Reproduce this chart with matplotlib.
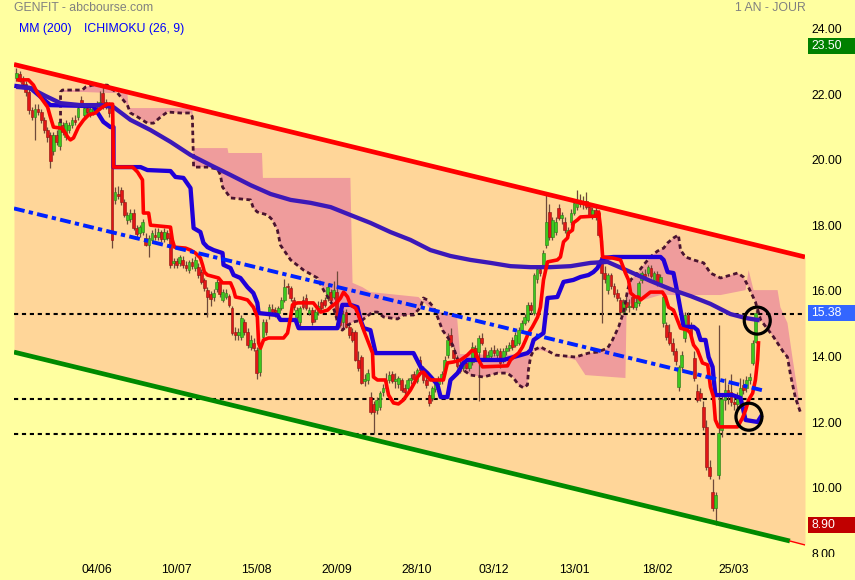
import numpy as np
import matplotlib
matplotlib.use("Agg")
import matplotlib.pyplot as plt
from matplotlib.patches import Ellipse, Rectangle

plt.rcParams['font.family'] = ['Liberation Sans', 'DejaVu Sans']

# daily candles, one entry per trading day (day 0 .. 240)
opens = [22.55, 22.65, 22.45, 22.35, 22.10, 21.56, 21.35, 21.60, 21.50, 21.26,
         20.95, 20.80, 20.30, 20.80, 20.45, 21.10, 20.75, 20.95, 21.10, 21.26,
         21.35, 21.87, 21.41, 21.62, 21.50, 21.47, 21.62, 21.62, 22.08, 21.80,
         21.71, 21.47, 18.82, 19.00, 19.12, 18.76, 18.21, 18.24, 18.42, 17.96,
         17.80, 17.84, 17.66, 17.45, 17.60, 17.75, 17.69, 17.84, 17.63, 17.80,
         17.66, 16.90, 16.96, 16.90, 17.00, 16.84, 16.68, 16.93, 16.74, 16.77,
         16.62, 16.38, 16.07, 15.95, 15.85, 16.10, 16.32, 15.77, 15.86, 15.90,
         15.52, 14.80, 14.70, 14.64, 15.10, 14.80, 14.33, 14.45, 14.24, 13.57,
         14.64, 15.10, 15.30, 15.50, 15.40, 15.37, 15.52, 15.77, 16.16, 16.13,
         15.77, 15.25, 15.10, 15.77, 15.83, 15.37, 15.46, 15.20, 15.40, 15.71,
         15.77, 15.83, 16.01, 15.86, 16.01, 15.52, 15.10, 15.40, 14.95, 14.79,
         14.79, 13.94, 14.03, 13.30, 13.33, 12.81, 12.60, 12.41, 12.50, 12.95,
         13.10, 13.33, 13.50, 13.30, 13.20, 13.33, 13.10, 13.10, 13.33, 13.50,
         13.30, 13.94, 13.63, 13.33, 12.87, 12.78, 13.05, 13.20, 13.35, 13.60,
         14.09, 14.70, 14.24, 14.00, 13.80, 13.70, 13.85, 13.70, 13.88, 14.30,
         14.18, 14.60, 14.24, 14.00, 14.05, 14.25, 14.09, 14.20, 13.90, 14.20,
         14.30, 14.55, 14.40, 14.46, 14.85, 15.07, 15.16, 15.62, 15.37, 16.40,
         16.70, 16.84, 17.44, 18.45, 17.70, 17.85, 18.57, 18.27, 18.15, 17.75,
         18.15, 18.42, 18.60, 18.76, 18.70, 18.80, 18.60, 18.36, 18.50, 18.42,
         17.08, 16.59, 16.07, 16.53, 16.20, 15.98, 15.77, 15.40, 15.70, 15.55,
         15.86, 15.55, 15.68, 16.38, 16.55, 16.59, 16.75, 16.38, 16.55, 16.29,
         15.07, 15.00, 14.80, 14.45, 14.20, 13.12, 13.73, 14.60, 15.30, 15.00,
         14.00, 13.00, 12.93, 12.50, 11.90, 10.68, 9.91, 9.43, 10.43, 11.80,
         12.72, 13.02, 12.96, 12.66, 12.60, 12.84, 13.18, 13.09, 13.33, 13.85,
         14.48]
highs = [22.85, 22.75, 22.60, 22.45, 22.20, 21.65, 21.75, 21.75, 21.60, 21.35,
         21.05, 20.90, 20.90, 20.95, 21.25, 21.20, 21.25, 21.20, 21.35, 21.40,
         21.70, 22.00, 21.70, 21.75, 21.70, 21.75, 21.85, 22.15, 22.25, 21.90,
         21.80, 21.55, 19.20, 19.25, 19.20, 18.85, 18.45, 18.55, 18.55, 18.05,
         18.05, 18.25, 17.80, 17.75, 17.90, 17.95, 17.95, 17.90, 17.95, 17.90,
         17.75, 17.05, 17.05, 17.15, 17.10, 16.95, 17.00, 17.05, 17.10, 16.90,
         16.70, 16.45, 16.15, 16.05, 16.10, 16.40, 16.40, 16.10, 16.10, 15.95,
         15.60, 14.95, 14.90, 15.30, 15.20, 14.90, 14.70, 14.60, 14.35, 14.35,
         15.20, 15.20, 15.65, 15.65, 15.55, 15.60, 15.85, 16.40, 16.30, 16.20,
         15.85, 15.55, 15.60, 15.90, 15.95, 15.55, 15.55, 15.50, 15.75, 15.80,
         15.85, 16.30, 16.10, 16.35, 16.65, 15.60, 15.45, 15.50, 15.05, 14.90,
         14.85, 14.20, 14.10, 13.50, 13.65, 12.95, 12.70, 12.80, 13.00, 13.20,
         13.55, 13.60, 13.60, 13.55, 13.45, 13.40, 13.20, 13.40, 13.50, 13.60,
         13.70, 14.05, 13.75, 13.45, 13.00, 13.15, 13.30, 13.45, 13.60, 14.05,
         14.75, 14.90, 14.35, 14.10, 13.90, 13.90, 14.00, 14.00, 14.50, 14.40,
         14.70, 14.75, 14.35, 14.20, 14.35, 14.40, 14.30, 14.30, 14.30, 14.40,
         14.50, 14.65, 14.80, 14.95, 15.15, 15.35, 15.70, 15.70, 16.60, 16.80,
         16.80, 17.30, 18.97, 18.70, 18.30, 18.30, 18.70, 18.45, 18.30, 18.00,
         18.55, 18.85, 19.12, 19.00, 18.95, 19.05, 18.70, 18.60, 18.60, 18.50,
         17.60, 16.80, 16.60, 16.60, 16.30, 16.10, 15.85, 15.80, 15.90, 15.80,
         15.95, 15.85, 16.35, 16.65, 16.70, 16.85, 16.85, 16.65, 16.65, 16.55,
         15.95, 15.10, 15.05, 14.60, 14.30, 13.80, 14.20, 15.40, 15.40, 15.10,
         14.20, 13.20, 13.10, 12.70, 12.10, 10.90, 10.30, 9.90, 15.00, 12.90,
         13.40, 13.20, 13.50, 12.90, 12.95, 13.40, 13.35, 13.45, 13.55, 14.55,
         15.45]
lows = [22.45, 22.40, 22.25, 22.00, 21.45, 21.25, 20.65, 21.40, 21.15, 20.85,
        20.60, 19.80, 20.20, 20.50, 20.35, 20.80, 20.65, 20.85, 21.00, 21.10,
        21.25, 21.65, 21.30, 21.40, 21.35, 21.40, 21.50, 21.55, 21.60, 21.60,
        21.35, 17.35, 18.70, 18.85, 18.65, 18.30, 18.10, 18.15, 17.90, 17.70,
        17.70, 17.75, 17.40, 17.08, 17.50, 17.60, 17.60, 17.55, 17.55, 17.60,
        16.75, 16.75, 16.75, 16.80, 16.75, 16.65, 16.60, 16.70, 16.65, 16.45,
        16.25, 16.05, 15.25, 15.60, 15.75, 16.00, 15.85, 15.70, 15.80, 15.55,
        14.70, 14.55, 14.55, 14.55, 14.70, 14.30, 14.25, 14.20, 13.35, 13.45,
        14.55, 14.70, 15.20, 15.30, 15.25, 15.25, 15.45, 15.70, 15.95, 15.75,
        15.45, 15.15, 14.90, 15.50, 15.45, 15.30, 15.00, 15.10, 15.30, 15.45,
        15.55, 15.75, 15.70, 15.80, 15.20, 14.95, 14.90, 14.90, 14.60, 14.50,
        13.90, 13.60, 13.20, 13.15, 13.20, 12.30, 11.70, 12.30, 12.40, 12.85,
        13.00, 13.25, 13.25, 13.10, 13.10, 12.95, 12.85, 13.00, 13.20, 13.30,
        13.25, 13.55, 13.25, 13.10, 12.55, 12.70, 12.95, 13.05, 13.20, 13.50,
        14.00, 14.35, 13.95, 13.70, 13.55, 13.60, 13.65, 13.60, 13.80, 13.95,
        12.70, 14.40, 13.95, 13.90, 13.95, 14.05, 14.00, 13.70, 13.85, 14.10,
        14.20, 14.25, 14.35, 14.40, 14.80, 15.00, 15.10, 15.35, 15.30, 16.30,
        16.50, 16.75, 17.35, 17.60, 17.60, 17.75, 18.20, 18.10, 17.80, 17.65,
        18.05, 18.35, 18.50, 18.60, 18.55, 18.55, 18.30, 18.25, 18.20, 17.70,
        15.07, 16.30, 15.95, 16.10, 15.85, 15.75, 15.30, 15.35, 15.45, 15.40,
        15.50, 15.45, 15.60, 16.30, 16.40, 16.50, 16.45, 16.30, 16.20, 16.20,
        14.95, 14.55, 14.40, 14.10, 13.80, 13.00, 13.60, 14.50, 14.90, 14.50,
        13.30, 12.65, 12.70, 11.80, 10.60, 10.30, 9.35, 8.90, 10.30, 11.60,
        12.40, 12.60, 12.55, 12.40, 12.45, 12.70, 12.90, 12.95, 13.20, 13.80,
        14.45]
closes = [22.68, 22.45, 22.35, 22.10, 21.56, 21.35, 21.60, 21.50, 21.26, 20.95,
          20.75, 20.00, 20.80, 20.60, 21.20, 20.90, 21.15, 21.10, 21.26, 21.20,
          21.62, 21.71, 21.62, 21.50, 21.60, 21.62, 21.55, 21.80, 21.71, 21.71,
          21.47, 17.60, 19.06, 18.95, 18.76, 18.36, 18.36, 18.42, 17.96, 17.78,
          18.00, 18.15, 17.45, 17.66, 17.80, 17.70, 17.84, 17.62, 17.84, 17.66,
          16.84, 16.96, 16.84, 17.08, 16.84, 16.75, 16.93, 16.80, 16.99, 16.53,
          16.32, 16.13, 15.86, 15.80, 15.98, 16.32, 15.95, 16.00, 15.98, 15.61,
          14.76, 14.70, 14.80, 15.22, 14.80, 14.40, 14.55, 14.30, 13.54, 14.30,
          15.10, 14.80, 15.55, 15.40, 15.37, 15.52, 15.77, 16.16, 16.13, 15.83,
          15.55, 15.46, 15.52, 15.55, 15.52, 15.46, 15.10, 15.40, 15.60, 15.52,
          15.62, 16.16, 15.77, 16.07, 15.25, 15.00, 15.35, 14.95, 14.70, 14.55,
          13.94, 13.70, 13.24, 13.33, 13.54, 12.35, 12.35, 12.72, 12.93, 13.10,
          13.33, 13.48, 13.30, 13.35, 13.40, 13.02, 12.95, 13.33, 13.40, 13.35,
          13.62, 13.63, 13.33, 13.18, 12.63, 13.09, 13.20, 13.35, 13.50, 13.95,
          14.55, 14.40, 14.00, 13.75, 13.60, 13.80, 13.70, 13.90, 14.34, 14.00,
          14.61, 14.45, 14.00, 14.10, 14.25, 14.15, 14.24, 13.85, 14.20, 14.30,
          14.40, 14.33, 14.70, 14.85, 15.07, 15.25, 15.62, 15.45, 16.53, 16.70,
          16.60, 17.20, 18.15, 17.69, 18.20, 18.15, 18.27, 18.35, 17.90, 17.90,
          18.42, 18.73, 18.76, 18.70, 18.80, 18.60, 18.36, 18.50, 18.30, 17.75,
          16.59, 16.40, 16.53, 16.20, 15.95, 15.83, 15.40, 15.70, 15.55, 15.60,
          15.55, 15.70, 16.29, 16.59, 16.50, 16.77, 16.50, 16.59, 16.30, 16.47,
          15.86, 14.64, 14.45, 14.20, 13.90, 13.73, 14.10, 15.30, 15.00, 14.60,
          13.40, 12.72, 12.78, 11.90, 10.68, 10.40, 9.43, 9.82, 11.71, 12.75,
          13.02, 12.85, 12.66, 12.60, 12.84, 13.10, 13.02, 13.33, 13.42, 14.45,
          15.38]

tick_days = [26, 52, 78, 104, 130, 155, 181, 208, 233]
tick_labels = ['04/06', '10/07', '15/08', '20/09', '28/10', '03/12', '13/01', '18/02', '25/03']
price_labels = [24, 22, 20, 18, 16, 14, 12, 10, 8]

# moving average 200
mm_days = [0.6, 4.5, 9.4, 14.3, 20.8, 27.3, 31.5, 37.0, 43.5, 50.0, 56.5, 63.0, 69.5, 76.0,
           82.5, 89.0, 95.5, 102.0, 108.4, 114.9, 121.4, 127.9, 134.4, 140.9, 147.4, 153.9,
           160.4, 166.9, 173.4, 179.9, 186.4, 191.9, 199.4, 205.8, 212.3, 218.8, 225.3,
           231.8, 236.7, 240.6]
mm_vals = [22.26, 22.23, 21.99, 21.77, 21.71, 21.71, 21.65, 21.26, 20.95, 20.59, 20.19, 19.88,
           19.58, 19.27, 19.00, 18.82, 18.73, 18.60, 18.36, 18.12, 17.84, 17.60, 17.29, 17.11,
           16.99, 16.90, 16.80, 16.77, 16.77, 16.80, 16.90, 16.93, 16.62, 16.35, 16.10, 15.89,
           15.65, 15.34, 15.22, 15.16]

# ichimoku kijun (26)
kijun_days = [0, 4.5, 11, 25, 28.2, 30.5, 31.5, 31.5, 40.3, 42.5,
              50, 51.6, 54.2, 56.5, 57.5, 59.7, 60.7, 62, 64, 66.9,
              67.2, 69.5, 70.5, 72.7, 75, 76.9, 78.2, 78.6, 84.7, 85.7,
              90.6, 91.6, 104.2, 105.2, 105.8, 108.4, 110.7, 111.7, 112.7, 114.9,
              116.6, 128.9, 131.2, 133.4, 135.4, 136.7, 137.7, 139.9, 140.9, 143.2,
              145.1, 146.4, 158.1, 165.9, 166.9, 167.9, 171.1, 172.4, 175.6, 177.6,
              180.8, 183.1, 185.7, 187.3, 188.6, 189.6, 190.6, 193.8, 209.1, 210.1,
              211.4, 213.3, 214.6, 215.6, 216.6, 219.8, 221.1, 222.1, 223.7, 224.7,
              226.0, 226.3, 226.9, 232.5, 235.1, 236.7, 240.6, 241.6]
kijun_vals = [22.29, 22.23, 21.71, 21.68, 21.20, 21.04, 21.04, 19.82, 19.82, 19.73,
              19.70, 19.52, 19.49, 19.18, 17.96, 17.84, 17.51, 17.38, 17.29, 17.20,
              16.84, 16.74, 16.53, 16.44, 16.16, 15.98, 15.68, 15.37, 15.31, 15.16,
              15.16, 14.91, 14.91, 15.37, 15.62, 15.62, 15.55, 15.16, 14.91, 14.85,
              14.15, 14.15, 13.73, 13.54, 13.33, 13.18, 12.81, 12.81, 13.33, 13.54,
              13.85, 13.94, 13.94, 14.15, 14.24, 14.55, 14.76, 15.83, 15.86, 16.32,
              16.38, 16.47, 16.53, 16.62, 16.74, 16.93, 17.05, 17.08, 17.08, 16.99,
              16.62, 16.59, 15.98, 15.46, 14.95, 14.95, 14.85, 14.55, 14.55, 14.03,
              13.73, 13.42, 12.87, 12.87, 12.78, 12.11, 12.05, 12.20]

# ichimoku tenkan (9)
tenkan_days = [0.6, 3.9, 5.5, 6.8, 8.4, 10.1, 11.0, 12.0, 14.3, 15.3,
               16.6, 17.5, 18.5, 20.1, 21.8, 23.4, 25.6, 26.6, 27.9, 29.5,
               31.2, 31.5, 37.7, 39.3, 40.9, 41.2, 42.9, 43.5, 50.0, 50.6,
               51.3, 54.9, 56.5, 58.1, 59.7, 60.4, 61.0, 62.0, 65.6, 66.9,
               69.5, 70.5, 71.1, 72.7, 75.0, 76.9, 78.2, 78.6, 79.2, 80.2,
               81.8, 86.7, 88.0, 89.0, 89.6, 91.2, 96.4, 97.7, 98.7, 101.0,
               102.0, 104.2, 105.2, 106.2, 107.5, 108.4, 110.1, 111.0, 112.7, 114.3,
               115.6, 115.9, 117.2, 119.8, 120.8, 122.4, 124.0, 125.6, 127.9, 130.2,
               131.2, 132.1, 133.4, 134.4, 138.6, 139.9, 141.9, 144.2, 146.4, 148.0,
               149.0, 150.0, 151.3, 159.4, 160.4, 161.4, 163.0, 164.3, 165.3, 166.2,
               167.5, 169.2, 170.1, 171.1, 172.4, 175.6, 176.6, 177.6, 178.9, 179.2,
               180.5, 180.8, 182.1, 183.1, 188.6, 189.0, 189.6, 190.3, 193.5, 196.1,
               197.7, 198.7, 199.4, 200.9, 201.9, 202.6, 205.8, 209.7, 210.7, 211.7,
               213.3, 215.6, 217.9, 218.8, 219.8, 221.1, 222.7, 224.4, 225.3, 226.3,
               226.9, 227.9, 234.1, 235.7, 236.7, 237.7, 239.0, 239.9, 240.6, 240.9]
tenkan_vals = [22.48, 22.48, 22.32, 22.08, 21.87, 21.65, 21.35, 21.04, 21.01, 20.95,
               20.74, 20.65, 20.71, 21.04, 21.26, 21.41, 21.47, 21.56, 21.65, 21.74,
               21.74, 19.82, 19.82, 19.67, 19.43, 18.42, 18.42, 18.05, 17.99, 17.60,
               17.38, 17.35, 17.29, 17.20, 17.05, 16.84, 16.62, 16.53, 16.44, 16.29,
               16.29, 16.07, 15.86, 15.83, 15.77, 15.55, 15.25, 14.46, 14.30, 14.55,
               14.61, 14.61, 14.76, 15.25, 15.62, 15.68, 15.68, 15.52, 15.40, 15.46,
               15.55, 15.71, 15.83, 16.01, 15.86, 15.62, 15.52, 15.31, 14.85, 14.46,
               14.15, 13.42, 13.33, 13.33, 12.87, 12.63, 12.60, 12.72, 13.02, 13.42,
               13.54, 13.57, 13.42, 13.33, 13.33, 13.85, 13.88, 13.94, 14.09, 14.24,
               14.18, 13.94, 13.73, 13.76, 13.94, 14.03, 14.15, 14.34, 14.55, 14.76,
               14.95, 15.25, 15.55, 16.38, 16.93, 16.99, 17.08, 17.54, 17.66, 17.81,
               17.90, 18.12, 18.21, 18.30, 18.33, 18.45, 17.99, 17.08, 17.05, 16.99,
               16.59, 16.38, 15.98, 15.86, 15.86, 15.77, 16.01, 16.01, 15.86, 15.55,
               15.46, 14.91, 14.85, 14.76, 14.40, 14.24, 13.85, 13.79, 13.12, 12.81,
               12.11, 11.90, 11.90, 12.17, 12.41, 12.72, 12.93, 13.33, 13.94, 14.46]

# cloud: senkou span A (dashed edge) and span B
spana_days = [14.3, 14.3, 14.9, 21.4, 22.4, 24.7, 29.5, 30.5, 32.8, 36.0,
              37.0, 39.3, 42.5, 44.5, 46.8, 49.0, 53.2, 56.5, 57.1, 57.5,
              62.0, 65.3, 66.2, 66.9, 69.5, 76.0, 76.9, 78.2, 81.5, 83.1,
              84.7, 85.7, 89.0, 93.2, 97.7, 99.7, 102.6, 103.9, 104.5, 105.8,
              107.5, 109.4, 112.3, 115.6, 117.2, 119.2, 123.7, 125.6, 128.9, 131.2,
              132.1, 133.4, 135.4, 136.7, 138.3, 139.9, 141.6, 143.5, 145.1, 147.4,
              151.6, 156.2, 159.4, 161.4, 163.0, 164.6, 165.9, 166.2, 166.9, 167.9,
              170.1, 175.0, 181.5, 185.7, 188.6, 191.9, 193.5, 195.5, 197.1, 198.4,
              199.4, 201.6, 203.6, 205.8, 208.1, 210.1, 211.4, 213.3, 214.9, 215.6,
              217.2, 219.8, 223.1, 225.3, 228.6, 234.1, 236.0, 237.3, 239.9, 241.6,
              245.8, 249.0, 250.3, 251.3, 252.9, 254.5]
spana_vals = [21.16, 22.11, 22.17, 22.17, 22.26, 22.32, 22.32, 22.23, 22.08, 21.71,
              21.47, 21.35, 21.16, 21.16, 21.35, 21.50, 21.47, 21.47, 21.35, 19.82,
              19.82, 19.76, 19.58, 19.21, 18.88, 18.82, 18.57, 18.45, 18.36, 18.21,
              17.90, 17.44, 16.99, 16.68, 16.44, 16.07, 15.62, 15.22, 14.91, 14.85,
              15.00, 15.10, 15.16, 15.40, 15.40, 15.25, 15.19, 15.31, 15.31, 15.55,
              15.83, 15.77, 15.55, 15.25, 14.85, 14.64, 14.40, 13.88, 13.63, 13.48,
              13.42, 13.54, 13.54, 13.39, 13.18, 13.09, 13.18, 13.63, 14.03, 14.24,
              14.34, 14.09, 14.03, 14.15, 14.18, 14.30, 14.55, 14.95, 15.40, 16.07,
              16.38, 16.59, 16.84, 17.08, 17.26, 17.35, 17.51, 17.66, 17.75, 17.29,
              17.08, 16.99, 16.90, 16.59, 16.44, 16.59, 16.47, 16.23, 15.71, 15.16,
              14.64, 14.18, 14.03, 13.48, 12.78, 12.35]
spanb_days = [14.3, 21.8, 30.5, 36.0, 36.4, 57.1, 57.5, 68.5, 68.8, 79.7,
              80.0, 108.4, 109.1, 112.3, 114.9, 130.5, 135.0, 143.0, 144.0, 159.4,
              170.1, 181.5, 184.7, 197.7, 198.1, 209.1, 228.6, 236.7, 237.7, 239.3,
              247.1, 248.0, 250.3, 251.9, 252.9, 253.9, 254.5]
spanb_vals = [22.11, 22.11, 22.08, 22.08, 21.62, 21.62, 20.40, 20.40, 20.25, 20.25,
              19.49, 19.49, 16.29, 16.16, 16.01, 15.86, 15.45, 15.30, 14.12, 14.09,
              14.24, 13.94, 13.48, 13.39, 15.62, 15.92, 15.92, 16.07, 16.68, 16.07,
              16.07, 15.55, 15.07, 14.03, 13.42, 12.81, 12.35]

# drawn trend channel and levels
channel_days = [-0.81, 256.0]
channel_top = [22.95, 17.08]
channel_bottom = [14.18, 8.31]
green_days = [-0.81, 251.1]
green_vals = [14.18, 8.42]
tail_days = [251.1, 256.0]
tail_vals = [8.42, 8.30]
mid_days = [-0.81, 242.0]
mid_vals = [18.56, 13.02]
levels = [15.35, 12.75, 11.68]

BG = '#FFFFA0'

fig = plt.figure(figsize=(8.55, 5.8), dpi=100, facecolor=BG)
ax = fig.add_axes([14 / 855, 23 / 580, 791 / 855, 537 / 580])
ax.set_xlim(-0.81, 256.0)
ax.set_ylim(7.933, 24.305)
ax.axis('off')

# channel band
ax.fill_between(channel_days, channel_top, channel_bottom, color='#FFD699', lw=0, zorder=1)

# cloud
cx = np.r_[spana_days, spanb_days[::-1]]
cy = np.r_[spana_vals, spanb_vals[::-1]]
ax.fill(cx, cy, color='#EF9C9C', lw=0, zorder=2)
ax.plot(spana_days, spana_vals, color='#4A1430', lw=2.0, dashes=(1.6, 1.2), zorder=6)

# horizontal levels
for lv in levels:
    ax.plot([-0.81, 256.0], [lv, lv], color='black', lw=1.5, dashes=(2, 1.8), zorder=3)

# candles
days = np.arange(len(closes))
o = np.array(opens)
c = np.array(closes)
up = c >= o
body_col = np.where(up, '#3CC81E', '#E01616')
edge_col = np.where(up, '#2A7A18', '#8E1010')
ax.vlines(days, lows, highs, color='#6E4A3A', lw=0.9, zorder=4)
h = c - o
h = np.where(np.abs(h) < 0.05, 0.05, h)
ax.bar(days, h, bottom=o, width=0.9, color=body_col, edgecolor=edge_col, lw=0.4, zorder=5)

# indicator lines
ax.plot(kijun_days, kijun_vals, color='#2000D8', lw=3.1, zorder=7)
ax.plot(mm_days, mm_vals, color='#3C18B8', lw=3.1, zorder=7)
ax.plot(tenkan_days, tenkan_vals, color='#FF0000', lw=2.6, zorder=8)

# trend lines
ax.plot(channel_days, channel_top, color='#FF0000', lw=3.4, zorder=9, solid_capstyle='butt')
ax.plot(green_days, green_vals, color='#008A00', lw=3.4, zorder=9, solid_capstyle='butt')
ax.plot(tail_days, tail_vals, color='#FF0000', lw=1.0, zorder=9)
ax.plot(mid_days, mid_vals, color='#0022FF', lw=2.8, dashes=(2.8, 1.1, 1.1, 1.1), zorder=9)

# circles
for cxy in [(240.5, 15.14), (237.8, 12.21)]:
    ax.add_patch(Ellipse(cxy, width=26 / 3.08, height=27 / 32.8, fill=False,
                         ec='black', lw=2.3, zorder=10))

# right price scale
ytr = ax.get_yaxis_transform()
for v in price_labels:
    ax.text(1.0076, v, f'{v:.2f}', transform=ytr, ha='left', va='center',
            fontsize=8.8, color='black', clip_on=False)

for val, col in [(23.50, '#008000'), (15.38, '#3366FF'), (8.90, '#C00000')]:
    ax.add_patch(Rectangle((1.0038, val - 0.245), 0.0594, 0.49, transform=ytr,
                           facecolor=col, lw=0, clip_on=False, zorder=11))
    ax.text(1.0076, val, f'{val:.2f}', transform=ytr, ha='left', va='center',
            fontsize=8.8, color='white', clip_on=False, zorder=12)

# date labels
xtr = ax.get_xaxis_transform()
for d, lab in zip(tick_days, tick_labels):
    ax.text(d, -0.0242, lab, transform=xtr, ha='center', va='center',
            fontsize=8.8, color='black', clip_on=False)

# hide the lower half of the last price label
fig.add_artist(Rectangle((806 / 855, 0), 49 / 855, 23 / 580, transform=fig.transFigure,
                         facecolor=BG, lw=0, zorder=20))

fig.text(14 / 855, 1 - 8 / 580, 'GENFIT - abcbourse.com', ha='left', va='center',
         fontsize=8.8, color='#808080')
fig.text(806 / 855, 1 - 8 / 580, '1 AN - JOUR', ha='right', va='center',
         fontsize=8.8, color='#808080')
fig.text(19 / 855, 1 - 29 / 580, 'MM (200)', ha='left', va='center',
         fontsize=8.8, color='#0000FF')
fig.text(84 / 855, 1 - 29 / 580, 'ICHIMOKU (26, 9)', ha='left', va='center',
         fontsize=8.8, color='#0000FF')

fig.savefig('out.png', dpi=100, facecolor=BG)
